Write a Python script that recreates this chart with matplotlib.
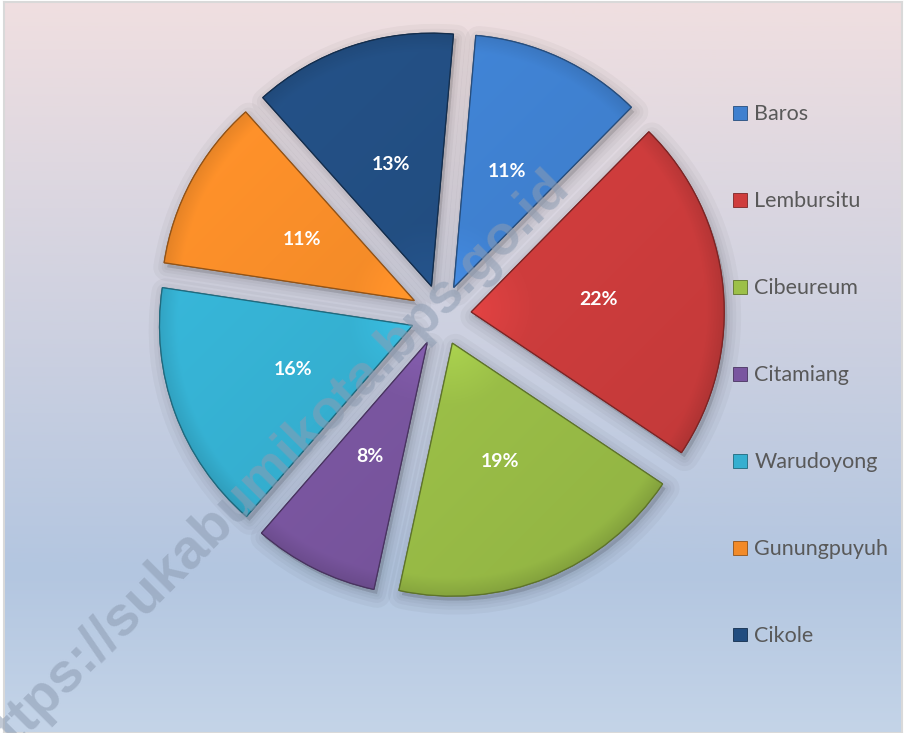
import numpy as np
import matplotlib.pyplot as plt
from matplotlib.patches import Wedge, Patch
from matplotlib.colors import to_rgb, LinearSegmentedColormap

kecamatan = ['Baros', 'Lembursitu', 'Cibeureum', 'Citamiang', 'Warudoyong', 'Gunungpuyuh', 'Cikole']
persen = [11, 22, 19, 8, 16, 11, 13]
warna = ['#3f80cf', '#cf3d3d', '#9cc048', '#7a56a0', '#35afd0', '#f28a28', '#224d80']

fig = plt.figure(figsize=(9.06, 7.33), dpi=100, facecolor='white')

# latar belakang gradasi
bg = fig.add_axes([4 / 906, 0, 898 / 906, 731 / 733])
cmap_bg = LinearSegmentedColormap.from_list('bg', [(0, '#f0dfe0'), (0.78, '#b3c6e0'), (1, '#c4d4e8')])
bg.imshow(np.linspace(0, 1, 256).reshape(-1, 1), aspect='auto', cmap=cmap_bg, extent=[0, 1, 0, 1], origin='upper')
bg.set_xticks([])
bg.set_yticks([])
for s in bg.spines.values():
    s.set_color('#d9d9d9')
    s.set_linewidth(1.5)

# watermark (di belakang pie, terpotong di pojok kiri bawah seperti aslinya)
fig.text(0.299, 0.360, 'https://sukabumikota.bps.go.id', rotation=45, ha='center', va='center',
         fontsize=40, family='Liberation Sans', fontweight='bold', color='#8d9cb2', alpha=0.55, zorder=0.5)

# pie
r_px = 253
cx, cy = 441, 315
lim = 1.2
ax = fig.add_axes([(cx - lim * r_px) / 906, (733 - cy - lim * r_px) / 733,
                   2 * lim * r_px / 906, 2 * lim * r_px / 733])
ax.set_xlim(-lim, lim)
ax.set_ylim(-lim, lim)
ax.set_aspect('equal')
ax.axis('off')

wedges, texts, autotexts = ax.pie(persen, colors=warna, explode=[0.12] * len(persen), startangle=85,
                                  counterclock=False, autopct='%.0f%%', pctdistance=0.505,
                                  wedgeprops=dict(linewidth=0.8), normalize=True,
                                  textprops=dict(color='white', fontsize=14, fontweight='bold', family='Lato'))

n = 260
for w, c in zip(wedges, warna):
    rgb = np.array(to_rgb(c))
    w.set_edgecolor(tuple(rgb * 0.6))
    w.set_zorder(3)
    wx, wy = w.center
    # bayangan lembut
    for lw in [20, 13, 8, 4]:
        sh = Wedge((wx + 0.012, wy - 0.018), w.r, w.theta1, w.theta2, facecolor=(0, 0, 0, 0.03),
                   edgecolor=(0, 0, 0, 0.03), linewidth=lw, joinstyle='round', zorder=1)
        ax.add_patch(sh)
    # efek bevel sederhana
    gx, gy = np.meshgrid(np.linspace(-1.02, 1.02, n), np.linspace(1.02, -1.02, n))
    t = (gx - gy) / 2.0
    rr = np.hypot(gx, gy)
    f = 1.08 - 0.16 * (t + 1) / 2
    f = f - 0.10 * np.clip((rr - 0.93) / 0.07, 0, 1)
    f = f + 0.10 * np.clip(1 - rr / 0.25, 0, 1)
    img = np.clip(rgb[None, None, :] * f[:, :, None], 0, 1)
    im = ax.imshow(img, extent=[wx - 1.02, wx + 1.02, wy - 1.02, wy + 1.02], zorder=4, interpolation='bilinear')
    im.set_clip_path(w)
    edge = Wedge((wx, wy), w.r, w.theta1, w.theta2, facecolor='none',
                 edgecolor=tuple(rgb * 0.6), linewidth=0.9, zorder=5)
    ax.add_patch(edge)

for t in autotexts:
    t.set_zorder(6)
ax.set_xlim(-lim, lim)
ax.set_ylim(-lim, lim)

# legenda
handles = [Patch(facecolor=c, edgecolor=tuple(np.array(to_rgb(c)) * 0.6), linewidth=0.6) for c in warna]
leg = fig.legend(handles, kecamatan, loc='upper left', bbox_to_anchor=(714 / 906, 1 - 85 / 733),
                 frameon=False, handlelength=0.62, handleheight=0.62, handletextpad=0.35,
                 labelspacing=3.11, prop=dict(family='Lato', size=15.5), labelcolor='#595959')

plt.savefig('out.png', dpi=100)
